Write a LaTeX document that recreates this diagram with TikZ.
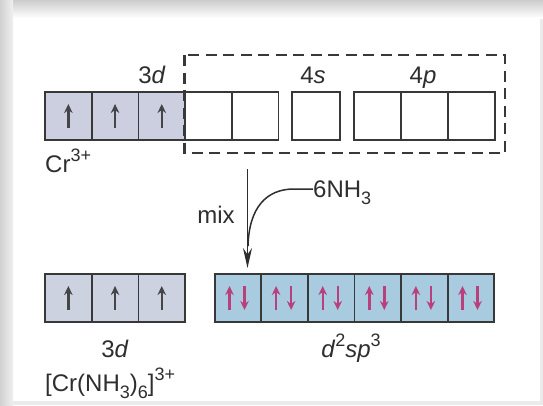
\documentclass[tikz,border=0pt]{standalone}
\usepackage{fontspec}
\setmainfont{Liberation Sans}
\usepackage{graphicx}
\usetikzlibrary{arrows.meta}

\definecolor{boxline}{HTML}{383838}
\definecolor{dfillA}{HTML}{CCCFE0}
\definecolor{dfillB}{HTML}{CDD2E0}
\definecolor{hybfill}{HTML}{A8CBDF}
\definecolor{spinpink}{HTML}{B8407C}
\definecolor{spingray}{HTML}{454548}
\definecolor{inkgray}{HTML}{2E2E2E}

% lowered subscript and raised superscript in text size
\newcommand\lowsub[1]{\raisebox{-0.3em}{\scalebox{0.75}{#1}}}
\newcommand\highsup[1]{\raisebox{0.42em}{\scalebox{0.75}{#1}}}

\begin{document}
\begin{tikzpicture}[x=1pt,y=-1pt,
  orb/.style={draw=boxline, line width=1.8pt, minimum width=46.7pt,
    minimum height=48pt, inner sep=0pt, outer sep=0pt},
  lbl/.style={font=\fontsize{24}{28}\selectfont, text=inkgray,
    inner sep=0pt, anchor=base},
  spin/.style={line width=2.4pt, -{Stealth[length=9pt,width=8.5pt]}},
  ]
\useasboundingbox (0,0) rectangle (543,405);

% page background and white panel
\fill[black!8] (0,0) rectangle (543,405);
\fill[white] (13,17) rectangle (540,401);
\shade[top color=black!20, bottom color=white] (0,0) rectangle (543,18);
\shade[left color=black!18, right color=black!6] (0,0) rectangle (13,405);

% Cr3+ : 3d, 4s, 4p
\foreach \i/\x in {1/68.35,2/115.05,3/161.75}
  \node[orb, fill=dfillA] (a\i) at (\x,116) {};
\foreach \i/\x in {4/208.45,5/255.15}
  \node[orb, fill=white] (a\i) at (\x,116) {};
\node[orb, fill=white, minimum width=48pt] (s1) at (316,116) {};
\foreach \i/\x in {1/377.5,2/424.5,3/471.5}
  \node[orb, fill=white, minimum width=47pt] (p\i) at (\x,116) {};
\foreach \i in {1,2,3}
  \draw[spin, spingray] ([yshift=-12pt]a\i.center) -- ([yshift=12pt]a\i.center);

% empty orbitals that hybridise
\draw[boxline, line width=2.6pt, dash pattern=on 11pt off 6.5pt]
  (184.5,55) rectangle (505,153);

\node[lbl] (t3d) at (152,83) {3\textit{d}};
\node[lbl] (t4s) at (313,83) {4\textit{s}};
\node[lbl] (t4p) at (423,83) {4\textit{p}};
\node[lbl, anchor=base west] (tcr) at (45,172) {Cr\highsup{3+}};

% mixing with ammonia
\coordinate (mixtop) at (247.5,169);
\coordinate (mixtip) at (247.5,268);
\coordinate (join) at (248,246);
\node[lbl] (tmix) at (216,223) {mix};
\node[lbl, anchor=base west] (nh3) at (313,197) {6NH\lowsub{3}};
\draw[inkgray, line width=1.8pt, -{Stealth[length=20pt,width=9pt]}]
  (mixtop) -- (mixtip);
\draw[inkgray, line width=1.5pt]
  ([yshift=8pt]nh3.base west) -- ++(-19,0)
  .. controls (266,189) and (249,208) .. (join);

% [Cr(NH3)6]3+ : 3d and d2sp3
\foreach \i/\x in {1/68.35,2/115.05,3/161.75}
  \node[orb, fill=dfillB] (b\i) at (\x,298) {};
\foreach \i in {1,2,3}
  \draw[spin, spingray] ([yshift=-12pt]b\i.center) -- ([yshift=12pt]b\i.center);
\foreach \i/\x in {1/238,2/284.6,3/331.2,4/377.8,5/424.4,6/471}
  \node[orb, fill=hybfill, minimum width=46.6pt] (h\i) at (\x,298) {};
\foreach \i in {1,...,6}{
  \draw[spin, spinpink] ([xshift=-8.5pt,yshift=-12pt]h\i.center)
    -- ([xshift=-8.5pt,yshift=12pt]h\i.center);
  \draw[spin, spinpink] ([xshift=6.5pt,yshift=12pt]h\i.center)
    -- ([xshift=6.5pt,yshift=-12pt]h\i.center);
}

\node[lbl] (b3d) at (115,357) {3\textit{d}};
\node[lbl] (bhyb) at (351,357) {\textit{d}\highsup{2}\textit{sp}\highsup{3}};
\node[lbl, anchor=base west] (bcx) at (45,391)
  {[Cr(NH\lowsub{3})\lowsub{6}]\highsup{3+}};
\end{tikzpicture}
\end{document}
